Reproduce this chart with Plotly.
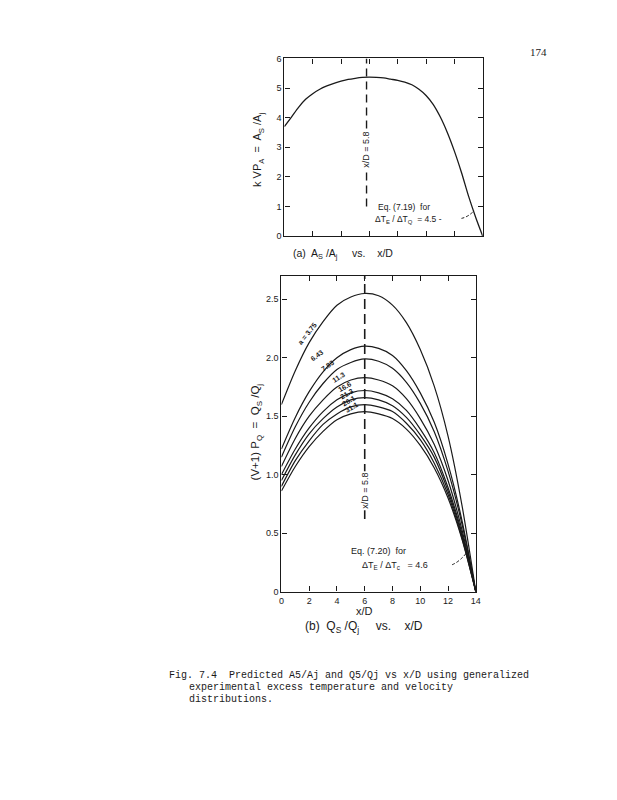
import plotly.graph_objects as go

# ---------------- data: chart (a) ----------------
xa = [0, 0.5, 1, 1.5, 2, 2.5, 3, 3.5, 4, 4.5, 5, 5.5, 6, 6.5, 7, 7.5, 8, 8.5, 9, 9.5,
      10, 10.5, 11, 11.5, 12, 12.5, 13, 13.5, 14]
ya = [3.7, 4.02, 4.35, 4.62, 4.81, 4.96, 5.07, 5.16, 5.23, 5.29, 5.33, 5.36, 5.37, 5.36, 5.34, 5.3,
      5.26, 5.2, 5.11, 4.96, 4.75, 4.45, 4.03, 3.5, 2.87, 2.15, 1.35, 0.64, 0]

# ---------------- data: chart (b) ----------------
xb = [0, 1, 2, 3, 4, 5, 6, 7, 8, 9, 10, 11, 12, 13, 14]
b1 = [1.60, 1.89, 2.13, 2.31, 2.45, 2.52, 2.55, 2.53, 2.45, 2.30, 2.07, 1.76, 1.33, 0.74, 0]
b2 = [1.22, 1.49, 1.71, 1.88, 2.00, 2.07, 2.10, 2.08, 2.02, 1.89, 1.70, 1.45, 1.09, 0.61, 0]
b3 = [1.15, 1.41, 1.62, 1.78, 1.90, 1.96, 1.99, 1.97, 1.91, 1.79, 1.61, 1.37, 1.03, 0.58, 0]
b4 = [1.07, 1.31, 1.50, 1.64, 1.75, 1.81, 1.83, 1.81, 1.76, 1.65, 1.48, 1.26, 0.95, 0.53, 0]
b5 = [1.00, 1.22, 1.40, 1.54, 1.64, 1.70, 1.72, 1.70, 1.65, 1.55, 1.39, 1.19, 0.89, 0.50, 0]
b6 = [0.95, 1.17, 1.35, 1.48, 1.58, 1.64, 1.66, 1.64, 1.59, 1.49, 1.34, 1.15, 0.86, 0.48, 0]
b7 = [0.90, 1.12, 1.29, 1.43, 1.52, 1.58, 1.60, 1.58, 1.54, 1.44, 1.30, 1.10, 0.83, 0.46, 0]
b8 = [0.86, 1.07, 1.24, 1.37, 1.47, 1.52, 1.54, 1.52, 1.48, 1.39, 1.25, 1.06, 0.80, 0.45, 0]
curves_b = [b1, b2, b3, b4, b5, b6, b7, b8]
curve_labels = ["a = 3.75", "6.43", "7.83", "11.3", "16.6", "21.3", "26.1", "31.1"]
label_x = [1.85, 2.55, 3.35, 4.1, 4.6, 4.75, 4.9, 5.05]
label_y = [2.16, 1.97, 1.88, 1.78, 1.70, 1.64, 1.58, 1.52]
label_ang = [-52, -38, -36, -32, -30, -30, -30, -30]

xticks_a = [2, 4, 6, 8, 10, 12]
yticks_a = [0, 1, 2, 3, 4, 5, 6]
xticks_b = [0, 2, 4, 6, 8, 10, 12, 14]
yticks_b = [0, 0.5, 1.0, 1.5, 2.0, 2.5]
yticklabels_b = ["0", "0.5", "1.0", "1.5", "2.0", "2.5"]
x_peak_a = 5.8
x_peak_b = 6
dash_a = [1.0, 6]
dash_b = [0.62, 2.7]

# page is drawn inside the default 8px body margin
OFF = 8
W, H = 617 - OFF, 800 - OFF
def PX(p):
    return (p - OFF) / W
def PY(p):
    return 1 - (p - OFF) / H

INK = "#1a1a1a"
TICKFONT = dict(family="Liberation Sans", size=9, color=INK)

fig = go.Figure()

fig.add_trace(go.Scatter(x=xa, y=ya, mode="lines", line=dict(color=INK, width=1.3, shape="spline", smoothing=0.8),
                         xaxis="x", yaxis="y", showlegend=False, hoverinfo="skip"))
for c in curves_b:
    fig.add_trace(go.Scatter(x=xb, y=c, mode="lines", line=dict(color=INK, width=1.2, shape="spline", smoothing=0.8),
                             xaxis="x2", yaxis="y2", showlegend=False, hoverinfo="skip"))

# dashed vertical lines
fig.add_trace(go.Scatter(x=[x_peak_a, x_peak_a], y=dash_a, mode="lines",
                         line=dict(color=INK, width=1.4, dash="8px,5px"), xaxis="x", yaxis="y",
                         showlegend=False, hoverinfo="skip"))
fig.add_trace(go.Scatter(x=[x_peak_b, x_peak_b], y=dash_b, mode="lines",
                         line=dict(color=INK, width=1.6, dash="10px,5px"), xaxis="x2", yaxis="y2",
                         showlegend=False, hoverinfo="skip"))

axcommon = dict(showgrid=False, zeroline=False, showline=True, linecolor=INK, linewidth=1.3,
                mirror="ticks", ticks="inside", ticklen=5, tickcolor=INK, tickfont=TICKFONT)

fig.update_layout(
    width=W, height=H,
    margin=dict(l=0, r=0, t=0, b=0),
    paper_bgcolor="white", plot_bgcolor="white",
    xaxis=dict(domain=[PX(285), PX(486)], range=[0, 14], tickvals=xticks_a, showticklabels=False,
               anchor="y", **axcommon),
    yaxis=dict(domain=[PY(234), PY(54)], range=[0, 6], tickvals=yticks_a, anchor="x", **axcommon),
    xaxis2=dict(domain=[PX(282), PX(479)], range=[0, 14], tickvals=xticks_b, anchor="y2", **axcommon),
    yaxis2=dict(domain=[PY(594), PY(274.3)], range=[0, 2.7], tickvals=yticks_b,
                ticktext=yticklabels_b, anchor="x2", **axcommon),
)

ann = []
def A(**kw):
    base = dict(showarrow=False, xanchor="center", yanchor="middle",
                font=dict(family="Liberation Sans", size=9, color=INK))
    base.update(kw)
    ann.append(base)

def F(size, fam="Liberation Sans"):
    return dict(family=fam, size=size, color=INK)

# page number
A(text="174", x=PX(543), y=PY(47), xref="paper", yref="paper", font=F(11, "Liberation Serif"))

# chart a texts
A(text="k VP<sub>A</sub>  =  A<sub>S</sub> /A<sub>j</sub>", x=PX(259), y=PY(147), xref="paper", yref="paper",
  textangle=-90, font=F(11))
A(text="(a)  A<sub>S</sub> /A<sub>j</sub>     vs.    x/D", x=PX(344), y=PY(252), xref="paper", yref="paper",
  font=F(10.5))
A(text="x/D = 5.8", x=x_peak_a, y=2.9, xref="x", yref="y", textangle=-90, bgcolor="white", font=F(9))
A(text="Eq. (7.19)  for", x=PX(378), y=PY(204), xref="paper", yref="paper", xanchor="left", font=F(8.5))
A(text="ΔT<sub>E</sub> / ΔT<sub>Q</sub>  = 4.5 -", x=PX(375), y=PY(217), xref="paper", yref="paper",
  xanchor="left", font=F(8.5))

# chart b texts
A(text="(V+1) P<sub>Q</sub>  =  Q<sub>S</sub> /Q<sub>j</sub>", x=PX(256), y=PY(432), xref="paper", yref="paper",
  textangle=-90, font=F(11.5))
A(text="x/D", x=PX(366), y=PY(614), xref="paper", yref="paper", font=F(11))
A(text="(b)  Q<sub>S</sub> /Q<sub>j</sub>     vs.    x/D", x=PX(366), y=PY(630), xref="paper", yref="paper",
  font=F(12))
A(text="x/D = 5.8", x=x_peak_b, y=0.86, xref="x2", yref="y2", textangle=-90, bgcolor="white", font=F(9))
A(text="Eq. (7.20)  for", x=PX(350), y=PY(553), xref="paper", yref="paper", xanchor="left", font=F(9))
A(text="ΔT<sub>E</sub> / ΔT<sub>c</sub>   = 4.6", x=PX(362), y=PY(568), xref="paper", yref="paper",
  xanchor="left", font=F(9))

for t, lx, ly, ang in zip(curve_labels, label_x, label_y, label_ang):
    A(text="<b>" + t + "</b>", x=lx, y=ly, xref="x2", yref="y2", textangle=ang, yshift=6, font=F(7))

# caption
CAP = F(10, "Liberation Mono")
A(text="Fig. 7.4  Predicted A5/Aj and Q5/Qj vs x/D using generalized", x=PX(166), y=PY(679),
  xref="paper", yref="paper", xanchor="left", font=CAP)
A(text="experimental excess temperature and velocity", x=PX(186), y=PY(691),
  xref="paper", yref="paper", xanchor="left", font=CAP)
A(text="distributions.", x=PX(186), y=PY(703),
  xref="paper", yref="paper", xanchor="left", font=CAP)

fig.update_layout(annotations=ann)

# leader lines (dashed)
fig.add_shape(type="path", path="M 12.5 0.6 Q 12.95 0.64 13.4 0.86", xref="x", yref="y",
              line=dict(color=INK, width=1, dash="3px,2px"))
fig.add_shape(type="path", path="M 12.3 0.23 Q 12.9 0.26 13.45 0.35", xref="x2", yref="y2",
              line=dict(color=INK, width=1, dash="3px,2px"))

fig.write_html("out.html")
